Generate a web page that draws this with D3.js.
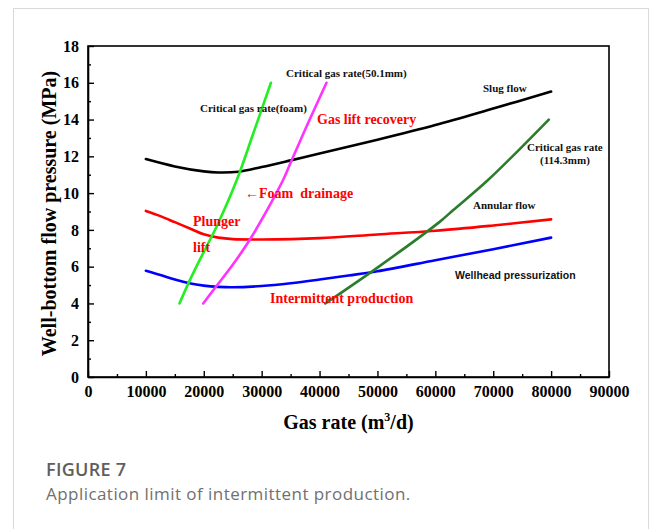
<!DOCTYPE html>
<html>
<head>
<meta charset="utf-8">
<script src="https://cdn.jsdelivr.net/npm/d3@7"></script>
<style>
  html, body { margin: 0; padding: 0; background: #fff; }
  svg { display: block; }
</style>
</head>
<body>
<svg id="chart" width="658" height="529"></svg>
<script>
// ---- data ----
const xTicks = [0, 10000, 20000, 30000, 40000, 50000, 60000, 70000, 80000, 90000];
const yTicks = [0, 2, 4, 6, 8, 10, 12, 14, 16, 18];

const slugX = [10000, 15000, 20000, 22500, 26000, 30000, 35000, 40000, 50000, 60000, 70000, 80000];
const slugY = [11.85, 11.45, 11.18, 11.12, 11.16, 11.42, 11.78, 12.15, 12.9, 13.7, 14.6, 15.52];

const plungerX = [10000, 12500, 15000, 18000, 20000, 22500, 25000, 30000, 40000, 50000, 60000, 70000, 80000];
const plungerY = [9.03, 8.75, 8.42, 8.02, 7.76, 7.58, 7.5, 7.48, 7.55, 7.75, 7.95, 8.24, 8.57];

const wellheadX = [10000, 12500, 15000, 17500, 20000, 22500, 25000, 30000, 35000, 40000, 45000, 50000, 60000, 70000, 80000];
const wellheadY = [5.78, 5.55, 5.3, 5.1, 4.97, 4.9, 4.88, 4.95, 5.1, 5.3, 5.52, 5.75, 6.35, 6.95, 7.58];

const foamX = [15800, 17600, 20000, 22200, 25700, 28500, 31600];
const foamY = [4.0, 5.27, 6.8, 8.17, 10.71, 13.2, 16.0];

const d50X = [19900, 22200, 25000, 28000, 31100, 33700, 35200, 38000, 41200];
const d50Y = [4.0, 4.95, 6.1, 7.49, 9.17, 10.71, 11.8, 13.8, 16.0];

const d114X = [41000, 50000, 60800, 63100, 69100, 79600];
const d114Y = [4.0, 5.95, 8.45, 9.08, 10.71, 14.0];

const seriesList = [
  { x: slugX, y: slugY, color: "#000000" },
  { x: plungerX, y: plungerY, color: "#ff0000" },
  { x: wellheadX, y: wellheadY, color: "#0000ff" },
  { x: d114X, y: d114Y, color: "#2b7d2b" },
  { x: foamX, y: foamY, color: "#22ee22" },
  { x: d50X, y: d50Y, color: "#ff33ff" }
];

const annotations = [
  { text: "Critical gas rate(50.1mm)", x: 286, y: 77, color: "#111", size: 11, family: "serif" },
  { text: "Critical gas rate(foam)", x: 200, y: 112, color: "#111", size: 11, family: "serif" },
  { text: "Gas lift recovery", x: 317, y: 124, color: "#ff0000", size: 14, family: "serif" },
  { text: "Slug flow", x: 483, y: 92, color: "#111", size: 11, family: "serif" },
  { text: "Critical gas rate", x: 527, y: 151, color: "#111", size: 11, family: "serif" },
  { text: "(114.3mm)", x: 540, y: 164, color: "#111", size: 11, family: "serif" },
  { text: "Annular flow", x: 473, y: 209, color: "#111", size: 11, family: "serif" },
  { text: "Wellhead pressurization", x: 455, y: 279, color: "#111", size: 10.5, family: "sans" },
  { text: "\u2190Foam\u00a0 drainage", x: 245, y: 198, color: "#ff0000", size: 14, family: "serif" },
  { text: "Plunger", x: 193, y: 226, color: "#ff0000", size: 14, family: "serif" },
  { text: "lift", x: 193, y: 252, color: "#ff0000", size: 14, family: "serif" },
  { text: "Intermittent production", x: 270, y: 303, color: "#ff0000", size: 14, family: "serif" }
];

// ---- layout ----
const svg = d3.select("#chart");
const serif = "'Liberation Serif','Times New Roman',serif";
const sans = "'Liberation Sans',Arial,sans-serif";
const caption = "'Open Sans','Noto Sans',sans-serif";

const plot = { left: 88, right: 609, top: 46, bottom: 377 };

const x = d3.scaleLinear().domain([0, 90000]).range([plot.left, plot.right]);
const y = d3.scaleLinear().domain([0, 18]).range([plot.bottom, plot.top]);

// outer frame
svg.append("rect")
  .attr("x", 13.5).attr("y", 8.5)
  .attr("width", 635).attr("height", 540)
  .attr("fill", "none").attr("stroke", "#d9d9d9").attr("stroke-width", 1);

// plot box
svg.append("rect")
  .attr("x", plot.left).attr("y", plot.top)
  .attr("width", plot.right - plot.left).attr("height", plot.bottom - plot.top)
  .attr("fill", "none").attr("stroke", "#000").attr("stroke-width", 1.6);

// minor ticks
const minorX = d3.range(5000, 90000, 10000);
const minorY = d3.range(1, 18, 2);
svg.append("g").attr("transform", `translate(0,${plot.bottom})`)
  .call(d3.axisBottom(x).tickValues(minorX).tickSize(-3).tickFormat(""))
  .call(g => g.select(".domain").remove())
  .selectAll("line").attr("stroke-width", 1.4);
svg.append("g").attr("transform", `translate(${plot.left},0)`)
  .call(d3.axisLeft(y).tickValues(minorY).tickSize(-3).tickFormat(""))
  .call(g => g.select(".domain").remove())
  .selectAll("line").attr("stroke-width", 1.4);

// major axes
const gx = svg.append("g").attr("transform", `translate(0,${plot.bottom})`)
  .call(d3.axisBottom(x).tickValues(xTicks).tickSize(-6).tickSizeOuter(0).tickPadding(9).tickFormat(d3.format("d")));
gx.select(".domain").attr("stroke-width", 1.6);
gx.selectAll("line").attr("stroke-width", 1.4);
gx.selectAll("text").attr("font-family", serif).attr("font-weight", "bold").attr("font-size", 16).attr("fill", "#000");

const gy = svg.append("g").attr("transform", `translate(${plot.left},0)`)
  .call(d3.axisLeft(y).tickValues(yTicks).tickSize(-6).tickSizeOuter(0).tickPadding(9));
gy.select(".domain").attr("stroke-width", 1.6);
gy.selectAll("line").attr("stroke-width", 1.4);
gy.selectAll("text").attr("font-family", serif).attr("font-weight", "bold").attr("font-size", 16).attr("fill", "#000");

// axis titles
const xt = svg.append("text")
  .attr("x", (plot.left + plot.right) / 2).attr("y", 429)
  .attr("text-anchor", "middle")
  .attr("font-family", serif).attr("font-weight", "bold").attr("font-size", 20);
xt.append("tspan").text("Gas rate (m");
xt.append("tspan").text("3").attr("font-size", 12).attr("dy", -8);
xt.append("tspan").text("/d)").attr("dy", 8);

svg.append("text")
  .attr("transform", `translate(56,${(plot.top + plot.bottom) / 2 + 2}) rotate(-90)`)
  .attr("text-anchor", "middle")
  .attr("font-family", serif).attr("font-weight", "bold").attr("font-size", 20)
  .text("Well-bottom flow pressure (MPa)");

// lines
const line = d3.line().x(d => x(d[0])).y(d => y(d[1])).curve(d3.curveCatmullRom.alpha(0.5));
seriesList.forEach(s => {
  const pts = s.x.map((v, i) => [v, s.y[i]]);
  svg.append("path").datum(pts)
    .attr("d", line)
    .attr("fill", "none")
    .attr("stroke", s.color)
    .attr("stroke-width", 2.6)
    .attr("stroke-linecap", "round");
});

// annotations
annotations.forEach(a => {
  svg.append("text")
    .attr("x", a.x).attr("y", a.y)
    .attr("fill", a.color)
    .attr("font-family", a.family === "sans" ? sans : serif)
    .attr("font-weight", "bold")
    .attr("font-size", a.size)
    .text(a.text);
});

// caption
svg.append("text").attr("x", 46).attr("y", 476)
  .attr("font-family", caption).attr("font-size", 18).attr("font-weight", 600)
  .attr("letter-spacing", 0.3)
  .attr("fill", "#5e5e5e").text("FIGURE 7");
svg.append("text").attr("x", 46).attr("y", 500)
  .attr("font-family", caption).attr("font-size", 17).attr("font-weight", 400)
  .attr("letter-spacing", 0.45)
  .attr("fill", "#707070").text("Application limit of intermittent production.");
</script>
</body>
</html>
